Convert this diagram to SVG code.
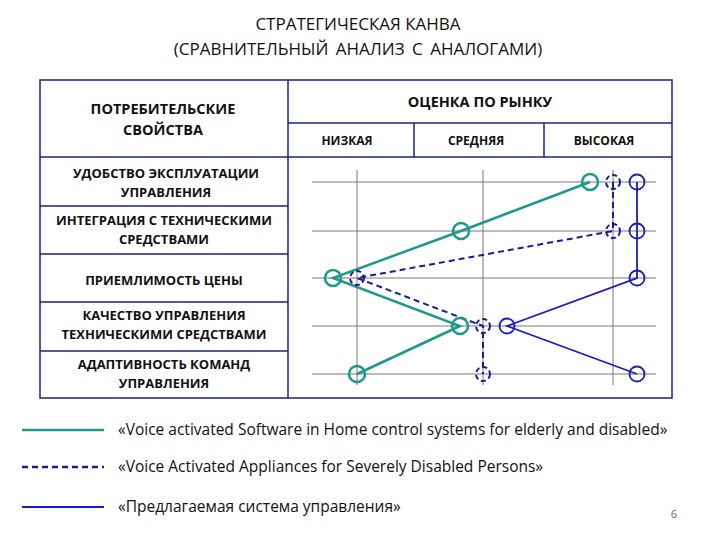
<svg xmlns="http://www.w3.org/2000/svg" width="720" height="540" viewBox="0 0 720 540">
<style>
text{font-family:"Open Sans","Liberation Sans",sans-serif;fill:#111}
.h{font-size:14.5px;font-weight:bold;text-anchor:middle}
.s{font-size:13px;font-weight:bold;text-anchor:middle}
.s2{font-size:12px;font-weight:bold;text-anchor:middle}
.t{font-size:17px;text-anchor:middle}
.l{font-size:15.5px}
.b{fill:none;stroke:#1a237e;stroke-width:1.5}
.g{stroke:#555;stroke-width:0.8}
.c1{fill:none;stroke:#1b9a8c;stroke-width:2.5}
.c2{fill:none;stroke:#1a1aa0;stroke-width:2;stroke-dasharray:6,4}
.c3{fill:none;stroke:#1a1acc;stroke-width:1.8}
</style>
<rect width="720" height="540" fill="#fff"/>
<text class="t" x="358" y="30">СТРАТЕГИЧЕСКАЯ КАНВА</text>
<text class="t" x="358" y="55" style="word-spacing:3px">(СРАВНИТЕЛЬНЫЙ  АНАЛИЗ  С  АНАЛОГАМИ)</text>
<g id="table">
<rect x="40" y="80" width="632" height="318" fill="#fff" class="b"/>
<line class="b" x1="288" y1="80" x2="288" y2="398"/>
<line class="b" x1="288" y1="123" x2="672" y2="123"/>
<line class="b" x1="40" y1="157" x2="672" y2="157"/>
<line class="b" x1="414" y1="123" x2="414" y2="157"/>
<line class="b" x1="544" y1="123" x2="544" y2="157"/>
<line class="b" x1="40" y1="206" x2="288" y2="206"/>
<line class="b" x1="40" y1="254" x2="288" y2="254"/>
<line class="b" x1="40" y1="302" x2="288" y2="302"/>
<line class="b" x1="40" y1="351" x2="288" y2="351"/>
<text class="h" x="163" y="114">ПОТРЕБИТЕЛЬСКИЕ</text>
<text class="h" x="163" y="135">СВОЙСТВА</text>
<text class="h" x="480" y="107">ОЦЕНКА ПО РЫНКУ</text>
<text class="s2" x="347" y="145">НИЗКАЯ</text>
<text class="s2" x="476" y="145">СРЕДНЯЯ</text>
<text class="s2" x="604" y="145">ВЫСОКАЯ</text>
<text class="s" x="166" y="178">УДОБСТВО ЭКСПЛУАТАЦИИ</text>
<text class="s" x="166" y="197">УПРАВЛЕНИЯ</text>
<text class="s" x="164" y="225">ИНТЕГРАЦИЯ С ТЕХНИЧЕСКИМИ</text>
<text class="s" x="164" y="244">СРЕДСТВАМИ</text>
<text class="s" x="164" y="285">ПРИЕМЛИМОСТЬ ЦЕНЫ</text>
<text class="s" x="164" y="320">КАЧЕСТВО УПРАВЛЕНИЯ</text>
<text class="s" x="164" y="339">ТЕХНИЧЕСКИМИ СРЕДСТВАМИ</text>
<text class="s" x="164" y="369">АДАПТИВНОСТЬ КОМАНД</text>
<text class="s" x="164" y="388">УПРАВЛЕНИЯ</text>
<g>
<line class="g" x1="312" y1="182" x2="656" y2="182"/>
<line class="g" x1="312" y1="231" x2="656" y2="231"/>
<line class="g" x1="312" y1="278" x2="656" y2="278"/>
<line class="g" x1="312" y1="326" x2="656" y2="326"/>
<line class="g" x1="312" y1="374" x2="656" y2="374"/>
<line class="g" x1="357" y1="170" x2="357" y2="385"/>
<line class="g" x1="483" y1="170" x2="483" y2="385"/>
<line class="g" x1="613" y1="170" x2="613" y2="385"/>
</g>
</g>
<g id="connectors">
<polyline class="c1" points="590,182 461,231 333,278 460,326 357,374"/>
<polyline class="c2" points="613,182 613,231 357,278 483,326 483,374"/>
<polyline class="c3" points="637,182 637,231 637,278 507,326 637,374"/>
</g>
<g id="series1" class="c1">
<circle cx="590" cy="182" r="8"/><circle cx="461" cy="231" r="8"/><circle cx="333" cy="278" r="8"/><circle cx="460" cy="326" r="8"/><circle cx="357" cy="374" r="8"/>
</g>
<g id="series2" class="c2" style="stroke-dasharray:5,3">
<circle cx="613" cy="182" r="7"/><circle cx="613" cy="231" r="7"/><circle cx="357" cy="278" r="7"/><circle cx="483" cy="326" r="7"/><circle cx="483" cy="374" r="7"/>
</g>
<g id="series3" class="c3">
<circle cx="637" cy="182" r="7.5"/><circle cx="637" cy="231" r="7.5"/><circle cx="637" cy="278" r="7.5"/><circle cx="507" cy="326" r="7.5"/><circle cx="637" cy="374" r="7.5"/>
</g>
<g id="legend">
<line class="c1" x1="22" y1="430" x2="104" y2="430"/>
<line class="c2" x1="22" y1="467" x2="104" y2="467" style="stroke-width:2.5"/>
<line class="c3" x1="22" y1="507" x2="104" y2="507"/>
<text class="l" x="118" y="435">«Voice activated Software in Home control systems for elderly and disabled»</text>
<text class="l" x="118" y="472">«Voice Activated Appliances for Severely Disabled Persons»</text>
<text class="l" x="118" y="512">«Предлагаемая система управления»</text>
<text x="674" y="518" style="font-size:11px;fill:#666;text-anchor:middle">6</text>
</g>
</svg>
